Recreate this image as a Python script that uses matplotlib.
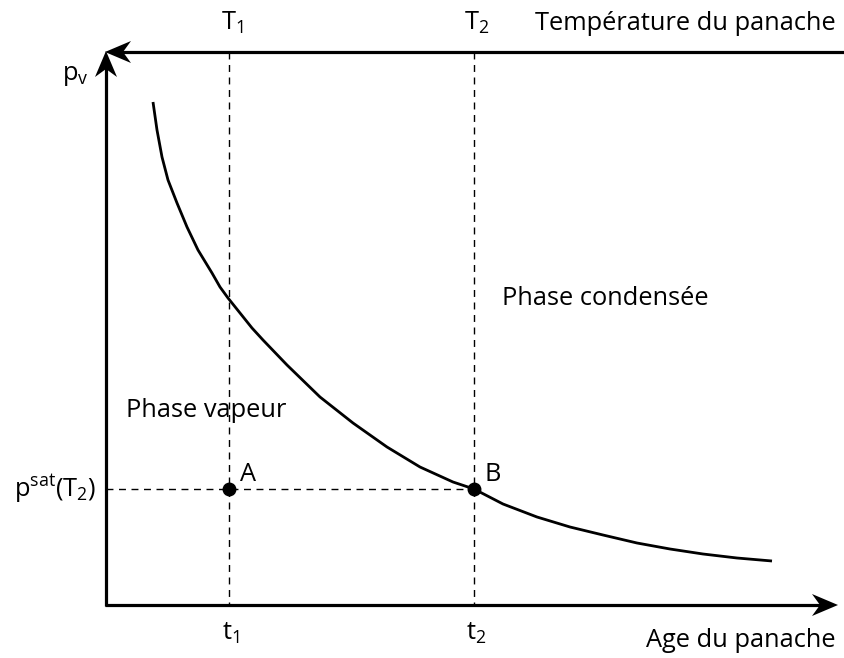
import matplotlib
matplotlib.use("Agg")
import matplotlib.pyplot as plt
from matplotlib.patches import Polygon

plt.rcParams['font.family'] = ['Open Sans', 'DejaVu Sans']
plt.rcParams['mathtext.fontset'] = 'custom'
plt.rcParams['mathtext.rm'] = 'Open Sans'
plt.rcParams['mathtext.it'] = 'Open Sans'

# saturation curve p_v(age) (pixel-like units, y down)
curve_x = [153, 157, 162, 168, 177, 187, 198, 212, 220, 228, 240, 252, 263, 287,
           320, 353, 387, 420, 453, 474, 503, 537, 570, 603, 637, 670, 703, 737, 772]
curve_y = [102, 130, 157, 180, 203, 227, 250, 273, 287, 298, 313, 328, 340, 365,
           397, 423, 447, 467, 482, 489, 504, 517, 527, 535, 543, 549, 554, 558, 561]

t_pos = [229, 474]
t_labels = ['$\\mathregular{t_1}$', '$\\mathregular{t_2}$']
T_labels = ['$\\mathregular{T_1}$', '$\\mathregular{T_2}$']
psat_y = 489
points = ['A', 'B']

x0, y0 = 106, 605  # origin
top_y = 52
x_end = 838

fig = plt.figure(figsize=(8.45, 6.58), dpi=100)
ax = fig.add_axes([0, 0, 1, 1])
ax.set_xlim(0, 845)
ax.set_ylim(658, 0)
ax.axis('off')


def arrowhead(tip, direction, length=26, half=11, notch=8):
    tx, ty = tip
    dx, dy = direction
    px, py = -dy, dx
    pts = [(tx, ty),
           (tx - dx * length + px * half, ty - dy * length + py * half),
           (tx - dx * (length - notch), ty - dy * (length - notch)),
           (tx - dx * length - px * half, ty - dy * length - py * half)]
    ax.add_patch(Polygon(pts, closed=True, color='black', lw=0, zorder=5))


lw_axis = 2.3
# axes lines
ax.plot([x0, x0], [y0 + 1, top_y + 10], color='black', lw=lw_axis, solid_capstyle='butt')
ax.plot([x0 - 1, x_end - 10], [y0, y0], color='black', lw=lw_axis, solid_capstyle='butt')
ax.plot([845, x0 + 10], [top_y, top_y], color='black', lw=lw_axis, solid_capstyle='butt')
arrowhead((x0, top_y - 1), (0, -1))
arrowhead((x_end, y0), (1, 0))
arrowhead((x0 - 1, top_y), (-1, 0))

# dashed guides
for xp in t_pos:
    ax.plot([xp, xp], [top_y, y0], color='black', lw=1.0, dashes=(5, 4))
ax.plot([x0, t_pos[1]], [psat_y, psat_y], color='black', lw=1.0, dashes=(5, 4))

# curve
ax.plot(curve_x, curve_y, color='black', lw=2.0, solid_capstyle='butt',
        solid_joinstyle='round')

fs = 18.3
# points
for xp, lab in zip(t_pos, points):
    ax.plot(xp, psat_y, 'o', color='black', ms=9, zorder=6)
    ax.text(xp + 11, psat_y - 8, lab, fontsize=fs, ha='left', va='baseline')

for xp, lab in zip(t_pos, t_labels):
    ax.text(xp + 2, 640, lab, fontsize=fs, ha='center', va='baseline')
for xp, lab in zip(t_pos, T_labels):
    ax.text(xp + 3, 30, lab, fontsize=fs, ha='center', va='baseline')

ax.text(836, 30, 'Température du panache', fontsize=fs, ha='right', va='baseline')
ax.text(836, 647, 'Age du panache', fontsize=fs, ha='right', va='baseline')
ax.text(62, 80, '$\\mathregular{p_v}$', fontsize=fs, ha='left', va='baseline')
ax.text(14, 496, '$\\mathregular{p^{sat}(T_2)}$', fontsize=fs, ha='left', va='baseline')
ax.text(502, 305, 'Phase condensée', fontsize=fs, ha='left', va='baseline')
ax.text(126, 417, 'Phase vapeur', fontsize=fs, ha='left', va='baseline')

fig.savefig('out.png', dpi=100, facecolor='white')
